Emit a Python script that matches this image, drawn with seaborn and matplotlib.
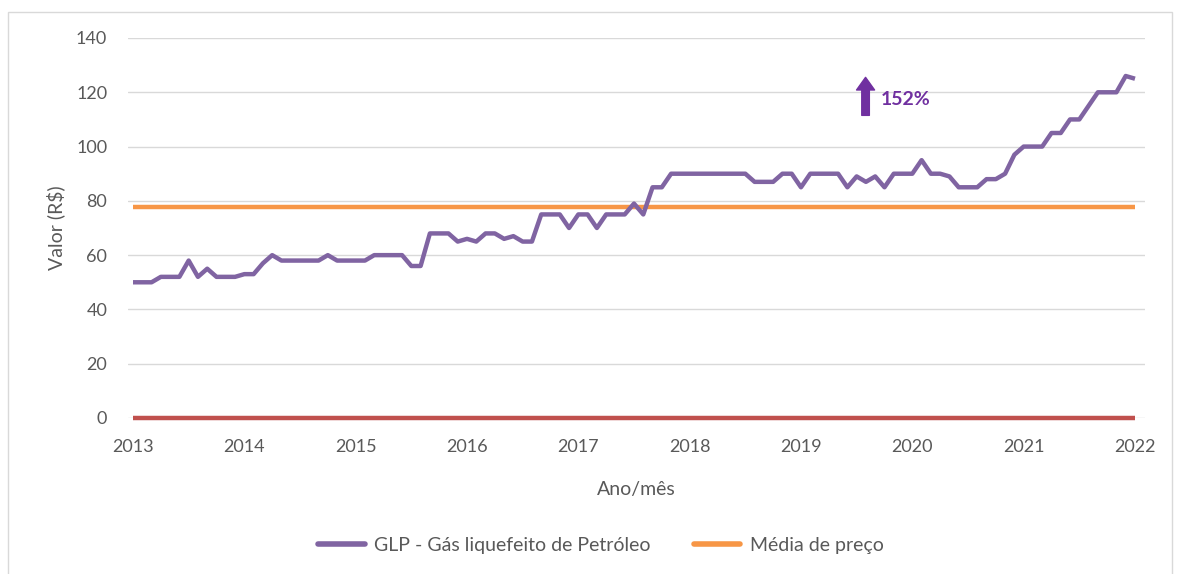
import numpy as np
import pandas as pd
import matplotlib
matplotlib.use('Agg')
import matplotlib.pyplot as plt
import seaborn as sns
from matplotlib.patches import Rectangle

# ─────────────────────────────────────────────────────────────────────────────
# Data (monthly, Jan/2013 .. Jan/2022)
# ─────────────────────────────────────────────────────────────────────────────
START_YEAR = 2013
glp_prices = [
    50, 50, 50, 52, 52, 52, 58, 52, 55, 52, 52, 52,      # 2013
    53, 53, 57, 60, 58, 58, 58, 58, 58, 60, 58, 58,      # 2014
    58, 58, 60, 60, 60, 60, 56, 56, 68, 68, 68, 65,      # 2015
    66, 65, 68, 68, 66, 67, 65, 65, 75, 75, 75, 70,      # 2016
    75, 75, 70, 75, 75, 75, 79, 75, 85, 85, 90, 90,      # 2017
    90, 90, 90, 90, 90, 90, 90, 87, 87, 87, 90, 90,      # 2018
    85, 90, 90, 90, 90, 85, 89, 87, 89, 85, 90, 90,      # 2019
    90, 95, 90, 90, 89, 85, 85, 85, 88, 88, 90, 97,      # 2020
    100, 100, 100, 105, 105, 110, 110, 115, 120, 120, 120, 126,  # 2021
    125,                                                 # 2022
]
media_preco = 77.7
zero_line = 0
year_ticks = list(range(2013, 2023))
y_ticks = [0, 20, 40, 60, 80, 100, 120, 140]

SERIES_GLP   = 'GLP - Gás liquefeito de Petróleo'
SERIES_MEDIA = 'Média de preço'
SERIES_ZERO  = 'zero'

COLORS = {SERIES_GLP: '#8064a2', SERIES_MEDIA: '#f79646', SERIES_ZERO: '#c0504d'}
TEXT_GRAY = '#595959'
ARROW_PURPLE = '#7030a0'

# ─────────────────────────────────────────────────────────────────────────────
# Build long table
# ─────────────────────────────────────────────────────────────────────────────
n = len(glp_prices)
dates = START_YEAR + np.arange(n) / 12.0
df = pd.concat([
    pd.DataFrame({'ano': dates, 'valor': glp_prices, 'serie': SERIES_GLP}),
    pd.DataFrame({'ano': dates, 'valor': [media_preco] * n, 'serie': SERIES_MEDIA}),
    pd.DataFrame({'ano': dates, 'valor': [zero_line] * n, 'serie': SERIES_ZERO}),
], ignore_index=True)

# ─────────────────────────────────────────────────────────────────────────────
# Plot
# ─────────────────────────────────────────────────────────────────────────────
sns.set_style('white')
plt.rcParams['font.family'] = ['Lato', 'DejaVu Sans']

fig = plt.figure(figsize=(11.83, 5.74), dpi=100)
ax = fig.add_axes([128 / 1183, 1 - 418 / 574, (1145 - 128) / 1183, (418 - 38) / 574])

# chart-area border
fig.patches.append(Rectangle((8 / 1183, -0.05), (1172 - 8) / 1183, 1.05 - 12 / 574,
                             transform=fig.transFigure, fill=False,
                             edgecolor='#d9d9d9', linewidth=1.0))

sns.lineplot(data=df, x='ano', y='valor', hue='serie',
             hue_order=[SERIES_ZERO, SERIES_MEDIA, SERIES_GLP],
             palette=COLORS, linewidth=3.2, ax=ax, legend=False)
for line in ax.lines:
    line.set_clip_on(False)
    line.set_solid_capstyle('butt')

ax.set_xlim(2012.955, 2022.09)
ax.set_ylim(0, 140)
ax.set_yticks(y_ticks)
ax.set_xticks(year_ticks)
ax.set_xticklabels([str(y) for y in year_ticks])
ax.grid(axis='y', color='#d9d9d9', linewidth=1.0)
ax.set_axisbelow(True)
for s in ax.spines.values():
    s.set_visible(False)
ax.tick_params(axis='both', length=0, labelsize=13, labelcolor=TEXT_GRAY)
ax.tick_params(axis='y', pad=15)
ax.tick_params(axis='x', pad=15)
ax.set_xlabel('Ano/mês', fontsize=14, color=TEXT_GRAY, labelpad=19)
ax.set_ylabel('Valor (R$)', fontsize=14, color=TEXT_GRAY, labelpad=8)

# 152% annotation
ax.annotate('', xy=(2019.58, 125.5), xytext=(2019.58, 111.5),
            arrowprops=dict(arrowstyle='simple,head_width=1.0,head_length=0.7,tail_width=0.42',
                            color=ARROW_PURPLE, shrinkA=0, shrinkB=0, mutation_scale=13))
ax.text(2019.72, 117.2, '152%', color=ARROW_PURPLE, fontsize=14, fontweight='bold',
        va='center', ha='left')

# legend (only the two named series)
handles = [plt.Line2D([], [], color=COLORS[SERIES_GLP], linewidth=4),
           plt.Line2D([], [], color=COLORS[SERIES_MEDIA], linewidth=4)]
fig.legend(handles, [SERIES_GLP, SERIES_MEDIA], loc='center',
           bbox_to_anchor=(601 / 1183, 1 - 545 / 574), ncol=2, frameon=False,
           fontsize=14, handlelength=2.4, handletextpad=0.5, columnspacing=2.2,
           labelcolor=TEXT_GRAY)

fig.savefig('out.png', dpi=100)
